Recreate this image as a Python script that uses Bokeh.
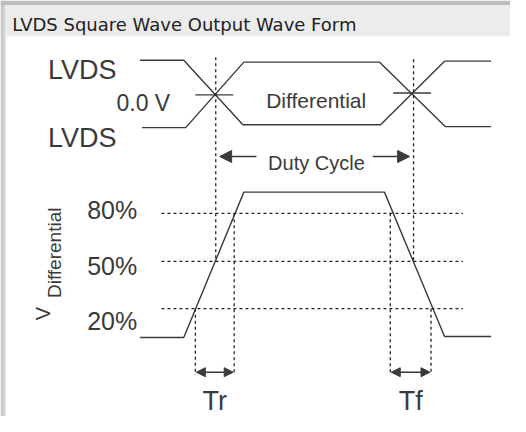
from bokeh.plotting import figure
from bokeh.models import Range1d, Label, Arrow, NormalHead
from bokeh.embed import file_html
from bokeh.resources import INLINE
import math

# ---------------- data (diagram units) ----------------
title_text = "LVDS Square Wave Output Wave Form"
lvds_labels = ["LVDS", "LVDS"]
zero_label = "0.0 V"
diff_label = "Differential"
duty_label = "Duty Cycle"
pct_labels = ["80%", "50%", "20%"]
pct_level_y = [225, 275, 324]
pct_label_y = [222, 280, 337]

# LVDS pair (time, level)
lvds_a_t = [145, 190, 251, 393, 459, 507]
lvds_a_y = [66, 66, 133, 133, 67, 67]
lvds_b_t = [147, 192, 252, 392, 460, 507]
lvds_b_y = [136, 136, 68, 68, 135, 135]
cross_t = [222, 426]
cross_y = [102, 100]

# differential pulse
pulse_t = [145, 190, 252, 397, 459, 507]
pulse_y = [354, 354, 203, 203, 353, 353]
rise_t = [202, 242]   # 20% / 80% crossings on rising edge
fall_t = [403, 445]   # 80% / 20% crossings on falling edge
mid_t = [223, 427]    # 50% crossings
edge_labels = ["Tr", "Tf"]

INK = "#3a3a3a"
FONT = "Liberation Sans"

p = figure(width=510, height=416, output_backend="svg", toolbar_location=None,
           x_axis_type=None, y_axis_type=None,
           x_range=Range1d(1, 527), y_range=Range1d(436, 4),
           min_border=0, background_fill_color="white", border_fill_color="white")
p.grid.visible = False
p.outline_line_color = None

# ---------------- frame ----------------
p.quad(left=[1], right=[6], top=[4], bottom=[436], fill_color="#c8c8c8", line_color=None)
p.quad(left=[4], right=[6], top=[9], bottom=[436], fill_color="#d8d8d8", line_color=None)
p.quad(left=[1], right=[527], top=[4], bottom=[9], fill_color="#bebebe", line_color=None)
p.quad(left=[6], right=[527], top=[9], bottom=[41], fill_color="#ececec", line_color=None)
p.add_layout(Label(x=13, y=29, text=title_text, text_font="DejaVu Sans",
                   text_font_size="18px", text_color="#222222",
                   text_align="left", text_baseline="alphabetic"))

# ---------------- LVDS pair ----------------
p.line(lvds_a_t, lvds_a_y, line_color=INK, line_width=1.4)
p.line(lvds_b_t, lvds_b_y, line_color=INK, line_width=1.4)
for ct, cy in zip(cross_t, cross_y):
    p.line([ct - 20, ct + 19], [cy, cy], line_color=INK, line_width=1.4)

p.add_layout(Label(x=50, y=76, text=lvds_labels[0], text_font=FONT, text_font_size="27px",
                   text_color=INK, text_align="left", text_baseline="alphabetic"))
p.add_layout(Label(x=50, y=147, text=lvds_labels[1], text_font=FONT, text_font_size="27px",
                   text_color=INK, text_align="left", text_baseline="alphabetic"))
p.add_layout(Label(x=176, y=110, text=zero_label, text_font=FONT, text_font_size="23px",
                   text_color=INK, text_align="right", text_baseline="alphabetic"))
p.add_layout(Label(x=275, y=108, text=diff_label, text_font=FONT, text_font_size="21px",
                   text_color=INK, text_align="left", text_baseline="alphabetic"))

# duty cycle
p.add_layout(Label(x=277, y=173, text=duty_label, text_font=FONT, text_font_size="20px",
                   text_color=INK, text_align="left", text_baseline="alphabetic"))
p.add_layout(Arrow(end=NormalHead(size=12, fill_color=INK, line_color=INK),
                   x_start=265, y_start=166, x_end=mid_t[0] + 4, y_end=166,
                   line_color=INK, line_width=1.4))
p.add_layout(Arrow(end=NormalHead(size=12, fill_color=INK, line_color=INK),
                   x_start=385, y_start=166, x_end=mid_t[1] - 4, y_end=166,
                   line_color=INK, line_width=1.4))

# ---------------- differential pulse ----------------
p.line(pulse_t, pulse_y, line_color=INK, line_width=1.4)

DOT = dict(line_color="#222222", line_width=1.3, line_dash="3 3")
for yv in pct_level_y:
    p.line([167, 478], [yv, yv], **DOT)
# 50% verticals from top section
p.line([mid_t[0], mid_t[0]], [63, pct_level_y[1]], **DOT)
p.line([mid_t[1], mid_t[1]], [65, pct_level_y[1]], **DOT)
# rise / fall verticals
p.line([rise_t[0], rise_t[0]], [pct_level_y[2], 393], **DOT)
p.line([rise_t[1], rise_t[1]], [pct_level_y[0], 393], **DOT)
p.line([fall_t[0], fall_t[0]], [pct_level_y[0], 393], **DOT)
p.line([fall_t[1], fall_t[1]], [pct_level_y[2], 393], **DOT)

for lab, ly in zip(pct_labels, pct_label_y):
    p.add_layout(Label(x=142, y=ly, text=lab, text_font=FONT, text_font_size="25px",
                       text_color=INK, text_align="right", text_baseline="alphabetic"))

# Tr / Tf arrows
for (a, b), lab in zip([rise_t, fall_t], edge_labels):
    p.add_layout(Arrow(start=NormalHead(size=9, fill_color=INK, line_color=INK),
                       end=NormalHead(size=9, fill_color=INK, line_color=INK),
                       x_start=a + 1, y_start=390, x_end=b - 1, y_end=390,
                       line_color=INK, line_width=1.4))
    p.add_layout(Label(x=(a + b) / 2, y=420, text=lab, text_font=FONT, text_font_size="27px",
                       text_color=INK, text_align="center", text_baseline="alphabetic"))

# V_Differential rotated label
p.add_layout(Label(x=45, y=336, text="V", text_font=FONT, text_font_size="20px",
                   text_color=INK, text_align="left", text_baseline="alphabetic",
                   angle=math.pi / 2))
p.add_layout(Label(x=57, y=313, text=diff_label, text_font=FONT, text_font_size="19px",
                   text_color=INK, text_align="left", text_baseline="alphabetic",
                   angle=math.pi / 2))

open("out.html", "w").write(file_html(p, INLINE))
